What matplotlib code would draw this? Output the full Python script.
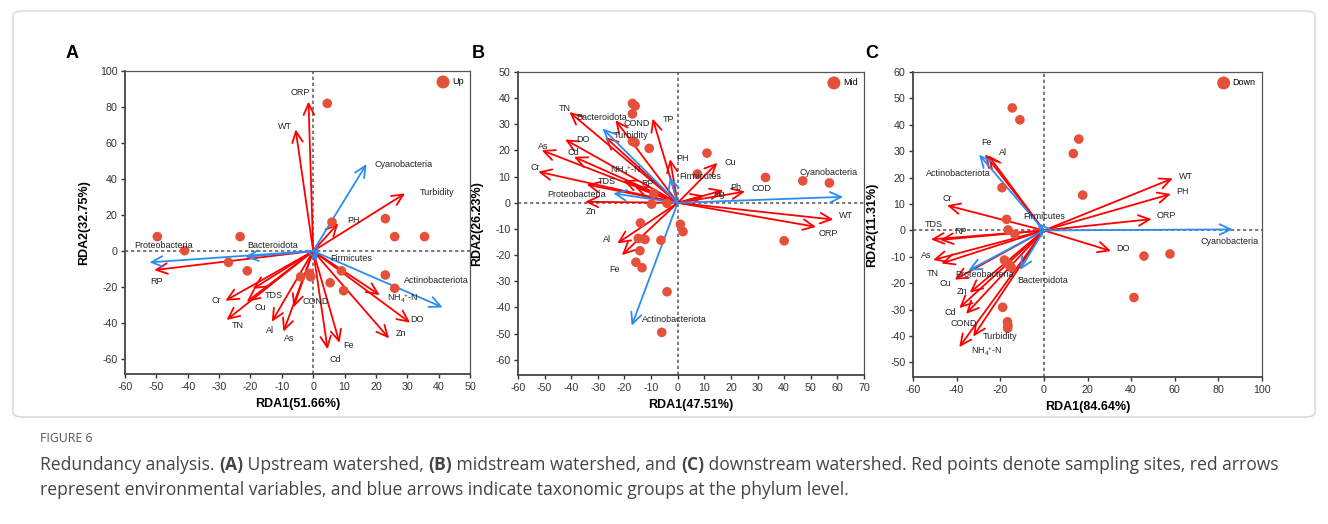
import numpy as np
import matplotlib
matplotlib.use("Agg")
import matplotlib.pyplot as plt
from matplotlib.patches import FancyBboxPatch

plt.rcParams['font.family'] = ['Liberation Sans', 'DejaVu Sans']
plt.rcParams['mathtext.fontset'] = 'custom'
plt.rcParams['mathtext.rm'] = 'Liberation Sans'
plt.rcParams['mathtext.default'] = 'regular'
plt.rcParams['axes.unicode_minus'] = False

SITE_COLOR = '#E5503B'
ENV_COLOR = '#FF0000'
TAXA_COLOR = '#2A8DF2'
NH4 = r'NH$_4$$^{+}$-N'

# ---------------- panel A (upstream) ----------------
A_site_x = [4.5, 6, 23, 26, 35.5, -49.7, -23.3, -41, -27, -21, -4, -1.2, -0.8, 9, 5.4, 9.7, 23, 26]
A_site_y = [82, 16, 18, 8, 8, 8, 8, 0.2, -6.3, -11, -14.3, -12.4, -14.3, -11, -17.6, -22, -13.3, -20.7]

A_env_names = ['ORP', 'WT', 'Turbidity', 'PH', 'RP', 'Cr', 'TN', 'TDS', 'Cu', 'Al', 'As',
               'COND', 'Cd', 'Fe', NH4, 'DO', 'Zn']
A_env_x = [-1.5, -5.6, 29.3, 8, -50.7, -28, -27.6, -19.3, -21.2, -13.2, -9.5, -6.3, 4.6, 8.4, 21.2, 30.9, 24.2]
A_env_y = [83, 67.6, 32, 15.4, -10.6, -27.6, -38.3, -21.1, -28.2, -39.3, -44.8, -31.3, -54.6, -51, -24.4, -39.8, -48.5]

A_taxa_names = ['Cyanobacteria', 'Proteobacteria', 'Bacteroidota', 'Firmicutes', 'Actinobacteriota']
A_taxa_x = [17, -52.2, -21.7, 1.1, 41.3]
A_taxa_y = [48.3, -6.3, -3.2, -5.9, -31.3]

# ---------------- panel B (midstream) ----------------
B_site_x = [-17, -16, -17, -17, -16, -10.7, -9, -9.8, -4, -14, 11, 7.4, 33, 47, 57, 1, 2, 40,
            -4, -6, -14.8, -12.3, -6.3, -14.2, -15.7, -13.4]
B_site_y = [38, 37, 34, 23.5, 23, 20.8, 3.6, -0.5, -0.2, -7.7, 19, 11, 9.7, 8.4, 7.6, -8.2, -11, -14.5,
            -34, -49.5, -13.6, -14, -14.3, -18.3, -22.7, -24.8]

B_env_names = ['TN', 'COND', 'TP', 'Turbidity', 'DO', 'As', 'Cd', 'Cr', NH4, 'RP', 'TDS', 'Zn',
               'PH', 'Cu', 'Hg', 'Pb', 'COD', 'WT', 'ORP', 'Al', 'Fe']
B_env_x = [-40.7, -23.4, -9.4, -27.3, -42.3, -51.1, -39, -52.4, -20.4, -16, -34.2, -34.8,
           -2.9, 14.9, 9.9, 17.1, 25.3, 58.5, 52, -22.7, -21]
B_env_y = [34.7, 31.6, 32.2, 25.2, 24.2, 20.1, 17.6, 11.9, 8.6, 6, 7, 0.4,
           16.7, 15.3, 2.8, 4.8, 4.3, -6.4, -9.2, -15.5, -20]

B_taxa_names = ['Bacteroidota', 'Proteobacteria', 'Firmicutes', 'Cyanobacteria', 'Actinobacteriota']
B_taxa_x = [-28.2, -24.2, -2.9, 62.2, -17.3]
B_taxa_y = [28.4, 3.6, 10, 2.3, -47]

# ---------------- panel C (downstream) ----------------
C_site_x = [-14.5, -11, -19.2, -17.1, -16.4, -13.3, 16, 13.5, 17.8, -18.1, -17, -16, -15,
            -18.9, -16.7, -16.5, -16.6, 45.9, 57.8, 41.3]
C_site_y = [46.4, 41.9, 16.2, 4.2, 0.2, -1.4, 34.6, 29.1, 13.4, -11.2, -12.5, -13, -14,
            -29.1, -34.6, -36, -37, -9.7, -8.9, -25.4]

C_env_names = ['Fe', 'Al', 'Cr', 'TDS', 'RP', 'As', 'TN', 'Cu', 'Zn', 'Cd', 'COND', 'Turbidity',
               NH4, 'WT', 'PH', 'ORP', 'DO']
C_env_x = [-27, -25.5, -44.4, -51.8, -47.6, -50.8, -47, -40.9, -34, -38.8, -35.7, -32.4,
           -38.8, 59.1, 58.2, 49.4, 30.8]
C_env_y = [28.8, 28.5, 9.5, -3.4, -3.6, -11.2, -12.5, -18.6, -23.6, -29.4, -31.6, -40.2,
           -44.2, 19.7, 13.8, 4.3, -7.8]

C_taxa_names = ['Actinobacteriota', 'Firmicutes', 'Cyanobacteria', 'Proteobacteria', 'Bacteroidota']
C_taxa_x = [-29.7, -3, 86.6, -34.6, -11]
C_taxa_y = [28.7, 3, 0.4, -15.2, -15]

# label placement (data units) and alignment, per panel
A_lab = {'ORP': (-4.2, 88, 'center'), 'WT': (-9, 69, 'center'), 'Turbidity': (34, 32.6, 'left'),
         'PH': (11, 16.7, 'left'), 'RP': (-50, -17, 'center'), 'Cr': (-31, -27.6, 'center'),
         'TN': (-24.1, -41.5, 'center'), 'TDS': (-15.6, -24.7, 'left'), 'Cu': (-17, -31.3, 'center'),
         'Al': (-13.8, -43.9, 'center'), 'As': (-7.6, -48.5, 'center'), 'COND': (-3.3, -27.8, 'left'),
         'Cd': (7.2, -60.2, 'center'), 'Fe': (11.4, -52.2, 'center'), NH4: (23.4, -26.5, 'left'),
         'DO': (33.2, -37.8, 'center'), 'Zn': (27.9, -45.7, 'center'),
         'Cyanobacteria': (19.4, 48.3, 'left'), 'Proteobacteria': (-47.8, 3.3, 'center'),
         'Bacteroidota': (-20.9, 3.3, 'left'), 'Firmicutes': (5.6, -4.4, 'left'),
         'Actinobacteriota': (29, -16.1, 'left')}
B_lab = {'TN': (-42.3, 36, 'center'), 'COND': (-20.2, 30.5, 'left'), 'TP': (-3.3, 32, 'center'),
         'Turbidity': (-23.9, 25.6, 'left'), 'DO': (-35.5, 24.3, 'center'), 'As': (-50.5, 21.6, 'center'),
         'Cd': (-39.2, 19.2, 'center'), 'Cr': (-53.6, 13.5, 'center'), NH4: (-19.5, 12.5, 'center'),
         'RP': (-11.4, 7.4, 'center'), 'TDS': (-26.6, 8, 'center'), 'Zn': (-32.7, -3.4, 'center'),
         'PH': (-0.5, 17, 'left'), 'Cu': (19.7, 15.4, 'center'), 'Hg': (15.7, 3.2, 'center'),
         'Pb': (21.9, 5.9, 'center'), 'COD': (31.6, 5.3, 'center'), 'WT': (63.1, -5, 'center'),
         'ORP': (56.6, -11.7, 'center'), 'Al': (-26.4, -13.9, 'center'), 'Fe': (-23.9, -25.3, 'center'),
         'Bacteroidota': (-28.6, 32.6, 'center'), 'Proteobacteria': (-37.9, 3.3, 'center'),
         'Firmicutes': (0.6, 9.9, 'left'), 'Cyanobacteria': (56.5, 11.6, 'center'),
         'Actinobacteriota': (-13.5, -44.5, 'left')}
C_lab = {'Fe': (-26.5, 33.2, 'center'), 'Al': (-18.6, 29.5, 'center'), 'Cr': (-44.3, 12.1, 'center'),
         'TDS': (-50.3, 2.4, 'center'), 'RP': (-38.3, -0.5, 'center'), 'As': (-54.1, -9.5, 'center'),
         'TN': (-50.8, -16.3, 'center'), 'Cu': (-45.4, -20.1, 'center'), 'Zn': (-37.7, -23, 'center'),
         'Cd': (-43.1, -30.9, 'center'), 'COND': (-36.6, -35.3, 'center'),
         'Turbidity': (-20.1, -40, 'center'), NH4: (-26.2, -45.7, 'center'),
         'WT': (65.2, 20.3, 'center'), 'PH': (63.7, 14.6, 'center'), 'ORP': (56.3, 5.8, 'center'),
         'DO': (36.4, -6.8, 'center'), 'Actinobacteriota': (-39.2, 21.7, 'center'),
         'Firmicutes': (-9.5, 5.4, 'left'), 'Cyanobacteria': (85, -4.3, 'center'),
         'Proteobacteria': (-27.4, -16.5, 'center'), 'Bacteroidota': (-12, -19, 'left')}

W, H = 1328, 524
fig = plt.figure(figsize=(W / 100, H / 100), dpi=100)

# light frame around the figure body
frame = FancyBboxPatch((13 / W, 1 - 417 / H), 1302 / W, 406 / H,
                       boxstyle='round,pad=0,rounding_size=0.008', transform=fig.transFigure,
                       fc='none', ec='#d6d6d6', lw=1.0)
fig.patches.append(frame)


def px_axes(l, t, r, b):
    return fig.add_axes([l / W, 1 - b / H, (r - l) / W, (b - t) / H])


panels = [
    dict(box=(125, 71, 470, 374), letter='A', lx=72, xlim=(-60, 50), ylim=(-68.3, 100),
         yt=np.arange(-60, 101, 20), xt=np.arange(-60, 51, 10),
         xl='RDA1(51.66%)', yl='RDA2(32.75%)', leg='Up',
         sx=A_site_x, sy=A_site_y, en=A_env_names, ex=A_env_x, ey=A_env_y,
         tn=A_taxa_names, tx=A_taxa_x, ty=A_taxa_y, lab=A_lab),
    dict(box=(518, 72, 864, 375), letter='B', lx=478, xlim=(-60, 70), ylim=(-65.8, 50),
         yt=np.arange(-60, 51, 10), xt=np.arange(-60, 71, 10),
         xl='RDA1(47.51%)', yl='RDA2(26.23%)', leg='Mid',
         sx=B_site_x, sy=B_site_y, en=B_env_names, ex=B_env_x, ey=B_env_y,
         tn=B_taxa_names, tx=B_taxa_x, ty=B_taxa_y, lab=B_lab),
    dict(box=(913, 72, 1262, 377), letter='C', lx=872, xlim=(-60, 100), ylim=(-55.5, 60),
         yt=np.arange(-50, 61, 10), xt=np.arange(-60, 101, 20),
         xl='RDA1(84.64%)', yl='RDA2(11.31%)', leg='Down',
         sx=C_site_x, sy=C_site_y, en=C_env_names, ex=C_env_x, ey=C_env_y,
         tn=C_taxa_names, tx=C_taxa_x, ty=C_taxa_y, lab=C_lab),
]

for p in panels:
    l, t, r, b = p['box']
    ax = px_axes(l, t, r, b)
    ax.set_xlim(*p['xlim'])
    ax.set_ylim(*p['ylim'])
    ax.set_xticks(p['xt'])
    ax.set_yticks(p['yt'])
    ax.tick_params(labelsize=7.7, length=3, width=1, pad=2.5, colors='#333333')
    for side in ['left', 'bottom']:
        ax.spines[side].set_linewidth(1.3)
        ax.spines[side].set_color('#444444')
    for side in ['top', 'right']:
        ax.spines[side].set_linewidth(0.9)
        ax.spines[side].set_color('#555555')
    ax.axhline(0, color='#666666', lw=1.2, ls=(0, (2, 1.6)), zorder=1)
    ax.axvline(0, color='#666666', lw=1.2, ls=(0, (2, 1.6)), zorder=1)

    ax.set_xlabel(p['xl'], fontsize=9, fontweight='bold')
    ax.set_ylabel(p['yl'], fontsize=9, fontweight='bold')
    ax.xaxis.set_label_coords(0.5, -24 / (b - t))
    ax.yaxis.set_label_coords(-35 / (r - l), 0.5)

    # arrows: environment in red, taxa in blue
    for names, xs, ys, col in [(p['en'], p['ex'], p['ey'], ENV_COLOR),
                               (p['tn'], p['tx'], p['ty'], TAXA_COLOR)]:
        for name, x, y in zip(names, xs, ys):
            ax.annotate('', xy=(x, y), xytext=(0, 0),
                        arrowprops=dict(arrowstyle='->,head_length=0.8,head_width=0.38',
                                        color=col, lw=1.3, shrinkA=0, shrinkB=0), zorder=2)
            lx, ly, ha = p['lab'][name]
            ax.text(lx, ly, name, fontsize=6.5, ha=ha, va='center', color='#222222', zorder=4)

    ax.scatter(p['sx'], p['sy'], s=48, color=SITE_COLOR, edgecolors='none', zorder=3,
               label=p['leg'])
    ax.legend(loc='upper right', frameon=False, fontsize=6.5, handletextpad=0.0,
              borderaxespad=0.4, markerscale=1.35, borderpad=0.3)

    fig.text(p['lx'] / W, 1 - 54 / H, p['letter'], fontsize=13, fontweight='bold',
             ha='center', va='center')

# caption
cap_font = ['Open Sans', 'DejaVu Sans']
fig.text(40 / W, 1 - 438 / H, 'FIGURE 6', fontsize=8.8, color='#555555', family=cap_font,
         va='center')

renderer = fig.canvas.get_renderer()


def runs(x0, y0, parts):
    x = x0
    for txt, wt in parts:
        t = fig.text(x / W, 1 - y0 / H, txt, fontsize=12.65, color='#444444', family=cap_font,
                     fontweight=wt, va='center')
        x += t.get_window_extent(renderer=renderer).width


runs(40, 465, [('Redundancy analysis. ', 'normal'), ('(A)', 'bold'),
               (' Upstream watershed, ', 'normal'), ('(B)', 'bold'),
               (' midstream watershed, and ', 'normal'), ('(C)', 'bold'),
               (' downstream watershed. Red points denote sampling sites, red arrows', 'normal')])
runs(40, 490, [('represent environmental variables, and blue arrows indicate taxonomic groups at the phylum level.', 'normal')])

fig.savefig('out.png', dpi=100)
